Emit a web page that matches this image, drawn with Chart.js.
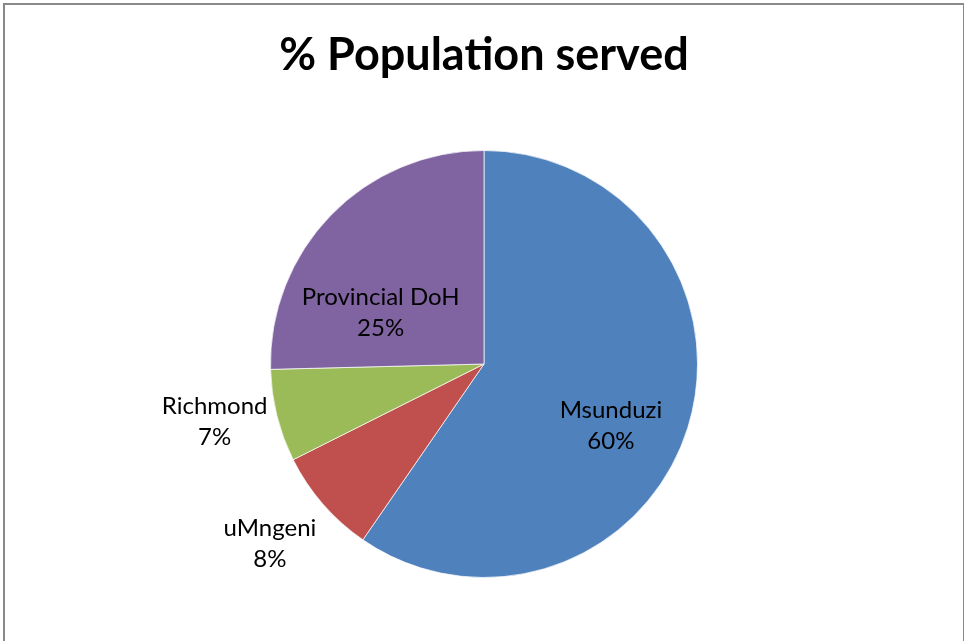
<!DOCTYPE html>
<html>
<head>
<meta charset="utf-8">
<script src="https://cdn.jsdelivr.net/npm/chart.js@4.4.1/dist/chart.umd.min.js"></script>
<style>
  html, body { margin: 0; padding: 0; background: #fff; overflow: hidden; }
  .frame { position: absolute; left: 3px; top: 3px; width: 958px; height: 700px; border: 2px solid #898989; }
  #pieChart { position: absolute; left: 0; top: 0; }
</style>
</head>
<body>
<div class="frame"></div>
<canvas id="pieChart" width="964" height="641"></canvas>
<script>
// ---- data ----
const categories = ['Msunduzi', 'uMngeni', 'Richmond', 'Provincial DoH'];
const shares = [59.6, 8.0, 7.0, 25.4];
const sliceColors = ['#4F81BD', '#C0504D', '#9BBB59', '#8064A2'];
const chartTitle = '% Population served';

const FONT = 'Lato, "Open Sans", sans-serif';

// draws "Name / NN%" labels, inside or outside the slice like Excel's best fit
const sliceLabels = {
  id: 'sliceLabels',
  afterDatasetsDraw(chart, args, opts) {
    const ctx = chart.ctx;
    const meta = chart.getDatasetMeta(0);
    const data = chart.data.datasets[0].data;
    const total = data.reduce((s, v) => s + v, 0);
    ctx.save();
    ctx.font = opts.font;
    ctx.fillStyle = '#000';
    ctx.textAlign = 'center';
    ctx.textBaseline = 'middle';
    meta.data.forEach((arc, i) => {
      const p = arc.getProps(['x', 'y', 'startAngle', 'endAngle', 'outerRadius'], true);
      const mid = (p.startAngle + p.endAngle) / 2 + (opts.shift[i] || 0) * Math.PI / 180;
      const r = p.outerRadius * opts.ratio[i];
      const cx = p.x + Math.cos(mid) * r;
      const cy = p.y + Math.sin(mid) * r;
      const pct = Math.round(data[i] / total * 100) + '%';
      ctx.fillText(chart.data.labels[i], cx, cy - opts.lineGap / 2);
      ctx.fillText(pct, cx, cy + opts.lineGap / 2);
    });
    ctx.restore();
  }
};

new Chart(document.getElementById('pieChart'), {
  type: 'pie',
  data: {
    labels: categories,
    datasets: [{
      data: shares,
      backgroundColor: sliceColors,
      borderColor: 'rgba(255,255,255,0.7)',
      borderWidth: 1,
      hoverOffset: 0
    }]
  },
  options: {
    responsive: false,
    animation: false,
    devicePixelRatio: 1,
    layout: { padding: { top: 0, bottom: 63, left: 4, right: 0 } },
    plugins: {
      legend: { display: false },
      tooltip: { enabled: false },
      title: {
        display: true,
        text: chartTitle,
        color: '#000',
        font: { family: FONT, size: 45, weight: 'bold' },
        padding: { top: 28, bottom: 68 }
      },
      sliceLabels: {
        font: '24px ' + FONT,
        lineGap: 31,
        ratio: [0.66, 1.31, 1.29, 0.54],
        shift: [8.5, 1, 2, -18]
      }
    }
  },
  plugins: [sliceLabels]
});
</script>
</body>
</html>
